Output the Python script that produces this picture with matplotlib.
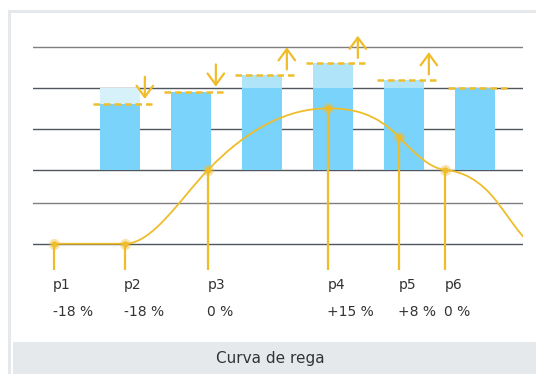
import matplotlib
matplotlib.use('Agg')
import matplotlib.pyplot as plt
from matplotlib.path import Path
from matplotlib.patches import PathPatch, Rectangle
from matplotlib.lines import Line2D
import matplotlib.transforms as mtransforms

# bars: base level, new level (dashed) and arrow direction
bar_x = [1, 2, 3, 4, 5, 6]
base_level = [20, 19, 20, 20, 20, 20]
new_level = [16, 19, 23.2, 26, 22, 20]
arrow_dir = [-1, -1, 1, 1, 1, 0]

# irrigation curve control points
point_names = ['p1', 'p2', 'p3', 'p4', 'p5', 'p6']
point_x = [0.07, 1.07, 2.24, 3.93, 4.93, 5.58]
point_pct = [-18, -18, 0, 15, 8, 0]
point_slope = [0, 0, 18, 0, -18, -1.7]
tail_x = [6.31, 6.68]
tail_y = [-7.8, -16.3]
tail_slope = [-22.5, -20]

grid_y = [30, 20, 10, 0, -8, -18]
grid_light = [30, -8]

yellow = '#efbd2b'
blue = '#79d3fb'
blue_up = '#afe4f9'
blue_down = '#d7f1fb'
text_c = '#333333'

fig = plt.figure(figsize=(5.36, 3.74), dpi=100)
ax = fig.add_axes([33 / 536, 104 / 374, 490 / 536, 240 / 374])
ax.set_xlim(-0.225, 6.676)
ax.set_ylim(-24.4, 34.1)
ax.axis('off')

for g in grid_y:
    c = '#7f7f7f' if g in grid_light else '#50565b'
    ax.axhline(g, color=c, lw=1.0, zorder=1)

w = 0.563
for x, b, n in zip(bar_x, base_level, new_level):
    ax.bar(x, min(b, n), width=w, color=blue, zorder=2)
    if n > b:
        ax.bar(x, n - b, bottom=b, width=w, color=blue_up, zorder=2)
    elif n < b:
        ax.bar(x, b - n, bottom=n, width=w, color=blue_down, zorder=2)

# dashed target levels and arrows
for x, n, d in zip(bar_x, new_level, arrow_dir):
    ax.plot([x - 0.38, x + 0.51], [n, n], color=yellow, lw=1.8,
            ls=(0, (2.6, 1.6)), zorder=3, solid_capstyle='butt')
    if d == 0:
        continue
    ax_x = x + 0.35
    if d > 0:
        start, end = n + 1.3, n + 6.7
    else:
        start, end = n + 6.7, n + 1.3
    ax.annotate('', xy=(ax_x, end), xytext=(ax_x, start),
                arrowprops=dict(arrowstyle='->,head_length=0.45,head_width=0.33',
                                color=yellow, lw=1.6, shrinkA=0, shrinkB=0,
                                mutation_scale=18), zorder=3)

# smooth curve built from cubic bezier segments
kx = point_x + tail_x
ky = point_pct + tail_y
km = point_slope + tail_slope
verts = [(kx[0], ky[0])]
codes = [Path.MOVETO]
for i in range(len(kx) - 1):
    h = kx[i + 1] - kx[i]
    verts += [(kx[i] + h / 3, ky[i] + km[i] * h / 3),
              (kx[i + 1] - h / 3, ky[i + 1] - km[i + 1] * h / 3),
              (kx[i + 1], ky[i + 1])]
    codes += [Path.CURVE4] * 3
ax.add_patch(PathPatch(Path(verts, codes), fill=False, ec=yellow, lw=1.3, zorder=4))

ax.vlines(point_x, -24.4, point_pct, color=yellow, lw=1.6, zorder=4)
ax.plot(point_x, point_pct, 'o', ms=8, color=yellow, alpha=0.4, mec='none', zorder=5)
ax.plot(point_x, point_pct, 'o', ms=4.5, color=yellow, mec='none', zorder=6)

trans = mtransforms.blended_transform_factory(ax.transData, fig.transFigure)
for x, name, pct in zip(point_x, point_names, point_pct):
    s = '0 %' if pct == 0 else f'{pct:+d} %'
    ax.text(x - 0.01, 1 - 285 / 374, name, transform=trans, ha='left', va='center',
            fontsize=10, color=text_c, family='DejaVu Sans')
    ax.text(x - 0.01, 1 - 311.5 / 374, s, transform=trans, ha='left', va='center',
            fontsize=10, color=text_c, family='DejaVu Sans')

# outer frame and caption band
frame_c = '#e5e9ec'
fig.add_artist(Line2D([8.5 / 536, 1], [1 - 11 / 374, 1 - 11 / 374],
                      transform=fig.transFigure, color=frame_c, lw=2.2))
fig.add_artist(Line2D([8.5 / 536, 8.5 / 536], [0, 1 - 11 / 374],
                      transform=fig.transFigure, color=frame_c, lw=2.2))
fig.add_artist(Rectangle((13 / 536, 0), 1, 32 / 374, transform=fig.transFigure,
                         color='#e6e9ec', lw=0))
fig.text(270 / 536, 16 / 374, 'Curva de rega', ha='center', va='center',
         fontsize=11, color=text_c)

fig.savefig('out.png', dpi=100)
